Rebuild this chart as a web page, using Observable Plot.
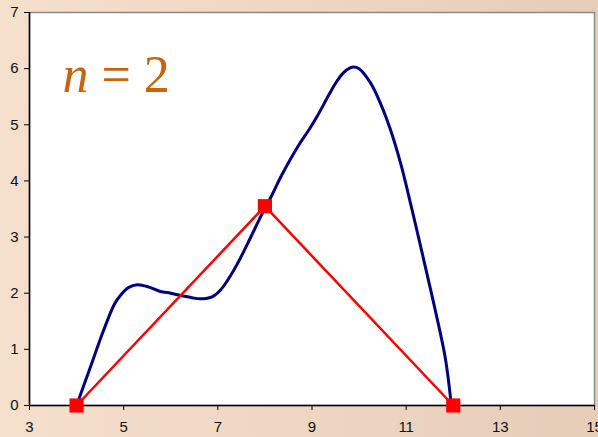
<!DOCTYPE html>
<html>
<head>
<meta charset="utf-8">
<script src="https://cdn.jsdelivr.net/npm/d3@7"></script>
<script src="https://cdn.jsdelivr.net/npm/@observablehq/plot@0.6"></script>
<style>
  html, body { margin: 0; padding: 0; }
  body { width: 598px; height: 437px; overflow: hidden; }
</style>
</head>
<body>
<div id="chart"></div>
<script>
// Blue curve (smooth function)
const curveX = [4, 4.3, 4.57, 4.8, 4.93, 5.1, 5.29, 5.5, 5.78, 6.0, 6.21, 6.45, 6.63, 6.89, 7.05, 7.2, 7.4, 7.63, 7.95, 8.15, 8.33, 8.55, 8.75, 8.95, 9.11, 9.35, 9.5, 9.67, 9.8, 9.88, 10.0, 10.24, 10.45, 10.66, 10.88, 11.09, 11.2, 11.41, 11.62, 11.83, 11.96];
const curveY = [0, 0.7, 1.33, 1.8, 1.96, 2.1, 2.15, 2.12, 2.03, 2.0, 1.96, 1.92, 1.90, 1.94, 2.05, 2.22, 2.5, 2.88, 3.43, 3.75, 4.06, 4.4, 4.68, 4.93, 5.15, 5.52, 5.74, 5.93, 6.01, 6.03, 6.0, 5.75, 5.39, 4.93, 4.32, 3.61, 3.22, 2.46, 1.69, 0.85, 0];
// Red interpolation nodes (n = 2)
const nodeX = [4, 8, 12];
const nodeY = [0, 3.55, 0];
// Tick labels
const xTicks = [3, 5, 7, 9, 11, 13, 15];
const yTicks = [0, 1, 2, 3, 4, 5, 6, 7];
const titleItalic = "n";
const titleRest = "= 2";

const curve = curveX.map((x, i) => ({x, y: curveY[i]}));
const nodes = nodeX.map((x, i) => ({x, y: nodeY[i]}));

const chart = Plot.plot({
  width: 598,
  height: 437,
  marginLeft: 29,
  marginRight: 4,
  marginTop: 12,
  marginBottom: 32,
  style: {
    background: "linear-gradient(to right, #F5E0CD, #E5CDB8)",
    fontFamily: "'Liberation Sans', Arial, sans-serif",
    fontSize: "15px",
    color: "#111"
  },
  x: {domain: [3, 15]},
  y: {domain: [0, 7]},
  marks: [
    Plot.frame({fill: "white", stroke: "#8a8a8a", strokeWidth: 1.5}),
    Plot.axisX({ticks: xTicks, tickSize: 5, tickPadding: 11, stroke: "#000", fill: "#111", fontSize: 15, label: null, tickFormat: d => String(d)}),
    Plot.axisY({ticks: yTicks, tickSize: 5, tickPadding: 6, stroke: "#000", fill: "#111", fontSize: 15, label: null, tickFormat: d => String(d)}),
    Plot.ruleY([0], {stroke: "#000", strokeWidth: 1.5}),
    Plot.ruleX([3], {stroke: "#000", strokeWidth: 1.5}),
    Plot.line(curve, {x: "x", y: "y", curve: "catmull-rom", stroke: "#000080", strokeWidth: 3}),
    Plot.line(nodes, {x: "x", y: "y", stroke: "#FF0000", strokeWidth: 2.5}),
    Plot.dot(nodes, {x: "x", y: "y", symbol: "square", r: 8, fill: "#FF0000", stroke: "none"}),
    Plot.text([titleItalic], {text: d => d, frameAnchor: "top-left", dx: 33, dy: 79, textAnchor: "start", lineAnchor: "bottom", fontFamily: "'Liberation Serif', 'Times New Roman', serif", fontStyle: "italic", fontSize: 52, fill: "#C8640A"}),
    Plot.text([titleRest], {text: d => d, frameAnchor: "top-left", dx: 72, dy: 79, textAnchor: "start", lineAnchor: "bottom", fontFamily: "'Liberation Serif', 'Times New Roman', serif", fontSize: 52, fill: "#C8640A"})
  ]
});
document.getElementById("chart").appendChild(chart);
</script>
</body>
</html>
